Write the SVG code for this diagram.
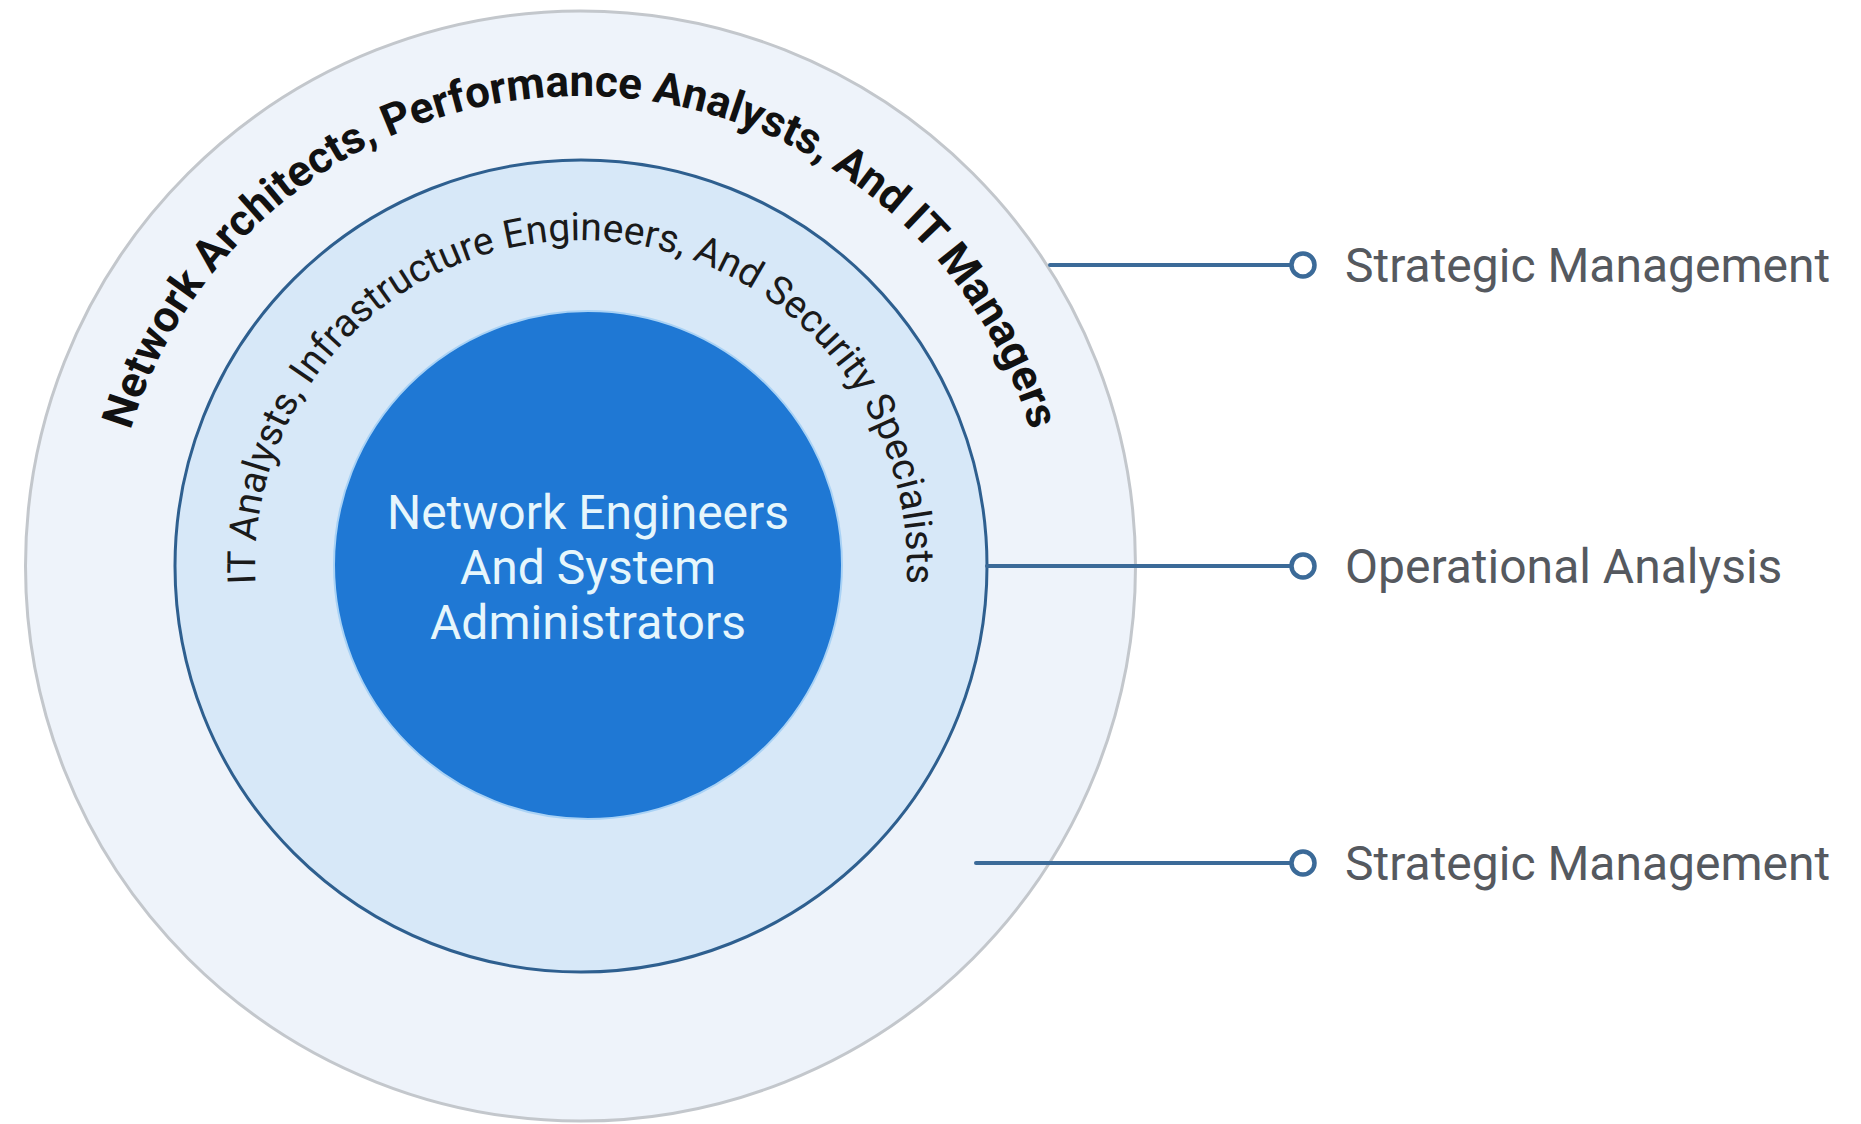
<svg xmlns="http://www.w3.org/2000/svg" width="1861" height="1124" viewBox="0 0 1861 1124">
  <style>
    .conn { stroke: #3b6a98; stroke-width: 4; fill: none; stroke-linecap: round; }
    .dot { stroke: #3b6a98; stroke-width: 4.5; fill: #ffffff; }
    .label { font-family: Roboto, "Liberation Sans", sans-serif; font-size: 48px; fill: #55595f; }
    .outerText { font-family: Roboto, "Liberation Sans", sans-serif; font-weight: bold; font-size: 44px; fill: #111111; }
    .midText { font-family: Roboto, "Liberation Sans", sans-serif; font-size: 39px; fill: #1a1a1a; }
    .innerText { font-family: Roboto, "Liberation Sans", sans-serif; font-size: 48px; fill: #e6f6fc; text-anchor: middle; }
  </style>
  <defs>
    <path id="outerArc" d="M 138.8 726.7 A 470 470 0 1 1 1022.2 726.7"/>
    <path id="midArc" d="M 274.6 677.5 A 326 326 0 1 1 887.4 677.5"/>
  </defs>
  <rect width="1861" height="1124" fill="#ffffff"/>

  <g id="outer-ring">
    <circle cx="580.5" cy="566" r="555" fill="#eef3fa" stroke="#c3c7cc" stroke-width="3"/>
    <text class="outerText"><textPath href="#outerArc" startOffset="50%" text-anchor="middle">Network Architects, Performance Analysts, And IT Managers</textPath></text>
  </g>

  <g id="middle-ring">
    <circle cx="581" cy="566" r="406" fill="#d7e8f8" stroke="#2e5f8f" stroke-width="3"/>
    <text class="midText"><textPath href="#midArc" startOffset="50%" text-anchor="middle">IT Analysts, Infrastructure Engineers, And Security Specialists</textPath></text>
  </g>

  <g id="inner-core">
    <circle cx="588" cy="565" r="254" fill="#1f78d4" stroke="#a9d2f5" stroke-width="2"/>
    <text class="innerText" x="588" y="529">Network Engineers</text>
    <text class="innerText" x="588" y="584">And System</text>
    <text class="innerText" x="588" y="639">Administrators</text>
  </g>

  <g id="connectors">
    <line class="conn" x1="1050" y1="265" x2="1291" y2="265"/>
    <line class="conn" x1="987" y1="566" x2="1291" y2="566"/>
    <line class="conn" x1="976" y1="863" x2="1291" y2="863"/>
  </g>

  <g id="label-strategic-1">
    <circle class="dot" cx="1303" cy="265" r="11.5"/>
    <text class="label" x="1345" y="282">Strategic Management</text>
  </g>
  <g id="label-operational">
    <circle class="dot" cx="1303" cy="566" r="11.5"/>
    <text class="label" x="1345" y="583">Operational Analysis</text>
  </g>
  <g id="label-strategic-2">
    <circle class="dot" cx="1303" cy="863" r="11.5"/>
    <text class="label" x="1345" y="880">Strategic Management</text>
  </g>
</svg>
